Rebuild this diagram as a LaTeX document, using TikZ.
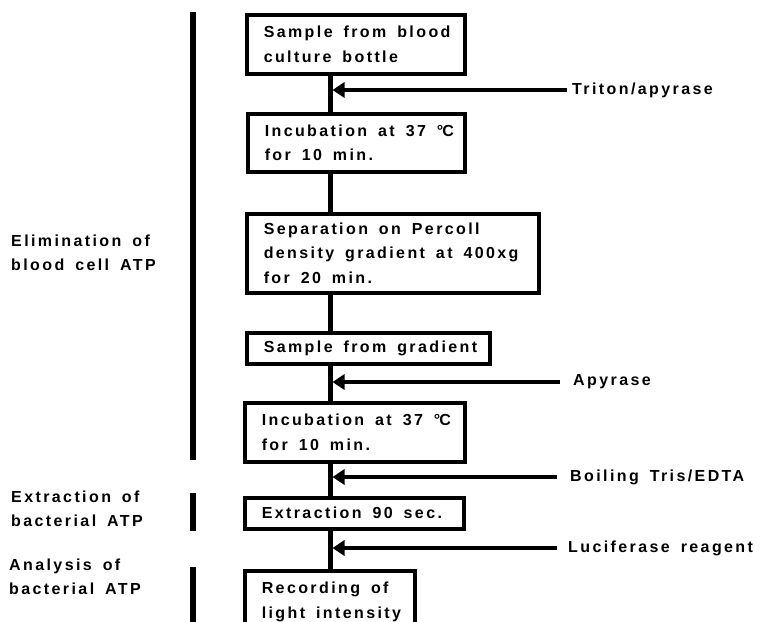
\documentclass[tikz,border=0pt]{standalone}
\usepackage{fontspec}
\setmainfont{Liberation Sans}[LetterSpace=15,WordSpace={1.6,1,0}]
\usetikzlibrary{arrows.meta}
\hfuzz=40pt
\newcommand\degC{\textdegree\kern-1pt C}
\begin{document}
\begin{tikzpicture}[x=1pt,y=-1pt,
  every node/.style={font=\fontsize{16}{24.5}\selectfont\bfseries},
  box/.style={draw, line width=3.5pt, anchor=north west, align=flush left, inner xsep=17pt, inner ysep=0pt,
    execute at begin node={\spaceskip=0pt\xspaceskip=0pt}},
  lbl/.style={anchor=west, align=left, inner sep=0pt},
  flow/.style={line width=5pt},
  arr/.style={line width=4.5pt, -{Triangle[length=12pt,width=15pt]}},
  bar/.style={line width=5.5pt}]
\useasboundingbox (0,0) rectangle (768,621);
\coordinate (s) at (330,0);
% boxes
\node[box, minimum width=218, minimum height=59, text width=184] (b1) at (245,13) {\mbox{Sample from blood}\\\mbox{culture bottle}};
\node[box, minimum width=217, minimum height=58, text width=183] (b2) at (246,112) {\mbox{Incubation at 37 \degC}\\\mbox{for 10 min.}};
\node[box, minimum width=292, minimum height=79, text width=258] (b3) at (245,212) {\mbox{Separation on Percoll}\\\mbox{density gradient at 400xg}\\\mbox{for 20 min.}};
\node[box, minimum width=243, minimum height=31, text width=209] (b4) at (245,331) {\mbox{Sample from gradient}};
\node[box, minimum width=220, minimum height=59, text width=186] (b5) at (243,401) {\mbox{Incubation at 37 \degC}\\\mbox{for 10 min.}};
\node[box, minimum width=219, minimum height=31, text width=185] (b6) at (243,496) {\mbox{Extraction 90 sec.}};
\node[box, minimum width=170, minimum height=62, text width=136] (b7) at (243,569) {\mbox{Recording of}\\\mbox{light intensity}};
% stem connectors
\draw[flow] (b1.south -| s) -- (b2.north -| s);
\draw[flow] (b2.south -| s) -- (b3.north -| s);
\draw[flow] (b3.south -| s) -- (b4.north -| s);
\draw[flow] (b4.south -| s) -- (b5.north -| s);
\draw[flow] (b5.south -| s) -- (b6.north -| s);
\draw[flow] (b6.south -| s) -- (b7.north -| s);
% reagents
\node[lbl] (r1) at (572,90) {Triton/apyrase};
\node[lbl] (r2) at (573,382) {Apyrase};
\node[lbl] (r3) at (570,477) {Boiling Tris/EDTA};
\node[lbl] (r4) at (568,548) {Luciferase reagent};
\draw[arr] ([xshift=-5pt]r1.west) -- ([xshift=2.5pt]r1.west -| s);
\draw[arr] ([xshift=-13pt]r2.west) -- ([xshift=2.5pt]r2.west -| s);
\draw[arr] ([xshift=-13pt]r3.west) -- ([xshift=2.5pt]r3.west -| s);
\draw[arr] ([xshift=-11pt]r4.west) -- ([xshift=2.5pt]r4.west -| s);
% phase labels
\node[lbl] (p1) at (11,253) {Elimination of\\blood cell ATP};
\node[lbl] (p2) at (11,509) {Extraction of\\bacterial ATP};
\node[lbl] (p3) at (9,577) {Analysis of\\bacterial ATP};
\coordinate (e1t) at (193,12); \coordinate (e1b) at (193,460);
\coordinate (e2t) at (193,493); \coordinate (e2b) at (193,531);
\coordinate (e3t) at (193,567); \coordinate (e3b) at (193,625);
\draw[bar] (e1t) -- (e1b);
\draw[bar] (e2t) -- (e2b);
\draw[bar] (e3t) -- (e3b);
\end{tikzpicture}
\end{document}
